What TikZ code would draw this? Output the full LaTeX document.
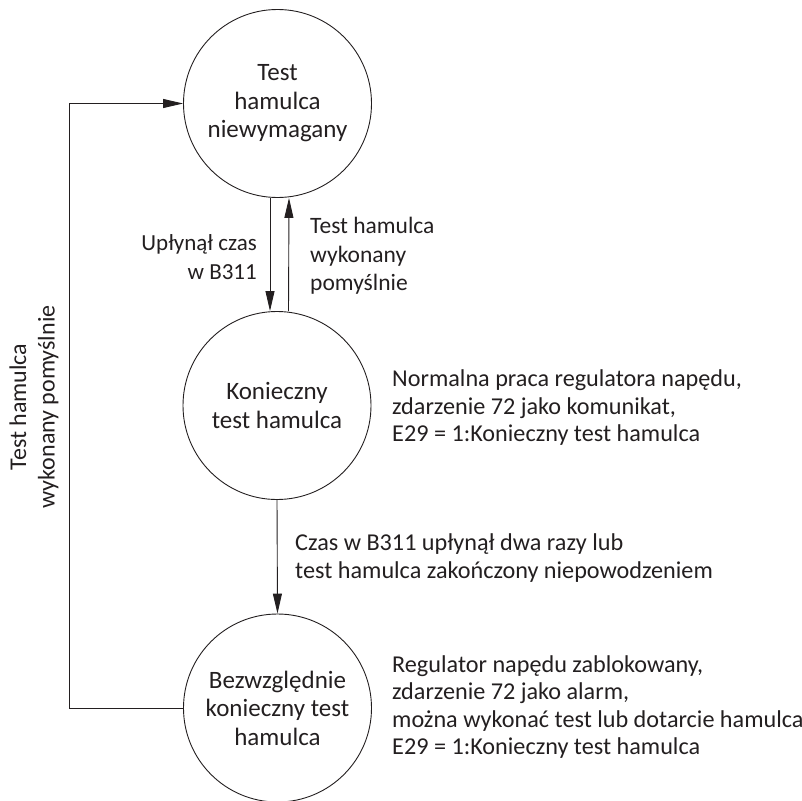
\documentclass[tikz,border=0pt]{standalone}
\usepackage{fontspec}
\setmainfont{Carlito}
\usetikzlibrary{arrows.meta}
\definecolor{ink}{HTML}{231F20}
\begin{document}
\begin{tikzpicture}[x=1pt,y=-1pt,
  every node/.style={text=ink, inner sep=0pt},
  state/.style={draw=ink, circle, line width=0.9pt, minimum size=188pt,
    align=center, font=\fontsize{25}{28.5}\selectfont},
  lbl/.style={font=\fontsize{23.5}{28.5}\selectfont},
  note/.style={font=\fontsize{24.2}{27.5}\selectfont, align=left, anchor=west},
  arr/.style={draw=ink, line width=0.9pt, -{Triangle[length=20pt,width=9pt]}}]
  \useasboundingbox (0,0) rectangle (802,800);

  % states
  \node[state] (s1) at (277.5,103.5) {Test\\hamulca\\niewymagany};
  \node[state] (s2) at (277,405.5) {Konieczny\\test hamulca};
  \node[state] (s3) at (277.5,708) {Bezwzględnie\\konieczny test\\hamulca};

  % transitions between the first two states
  \draw[arr] ([xshift=-7.5pt]s1.south) -- ([xshift=-7pt]s2.north);
  \draw[arr] ([xshift=11.5pt]s2.north) -- ([xshift=11.5pt]s1.south);
  \node[lbl, font=\fontsize{23}{28.5}\selectfont, align=right, anchor=east] (t12) at (257,257) {Upłynął czas\\w B311};
  \node[lbl, align=left, anchor=west] (t21) at (310,256) {Test hamulca\\wykonany\\pomyślnie};

  % escalation
  \draw[arr] (s2.south) -- (s3.north);
  \node[note] (t23) at (295,558) {Czas w B311 upłynął dwa razy lub\\test hamulca zakończony niepowodzeniem};

  % return loop on the left
  \coordinate (loopx) at (69,0);
  \draw[arr] (s3.west) -- (s3.west -| loopx) |- (s1.west);
  \node[lbl, font=\fontsize{24}{28.5}\selectfont, rotate=90, align=center] (t31) at (34,407) {Test hamulca\\wykonany pomyślnie};

  % state descriptions
  \node[note] (d2) at (392,408) {Normalna praca regulatora napędu,\\zdarzenie 72 jako komunikat,\\E29 = 1:Konieczny test hamulca};
  \node[note] (d3) at (392,707) {Regulator napędu zablokowany,\\zdarzenie 72 jako alarm,\\można wykonać test lub dotarcie hamulca\\E29 = 1:Konieczny test hamulca};
\end{tikzpicture}
\end{document}
